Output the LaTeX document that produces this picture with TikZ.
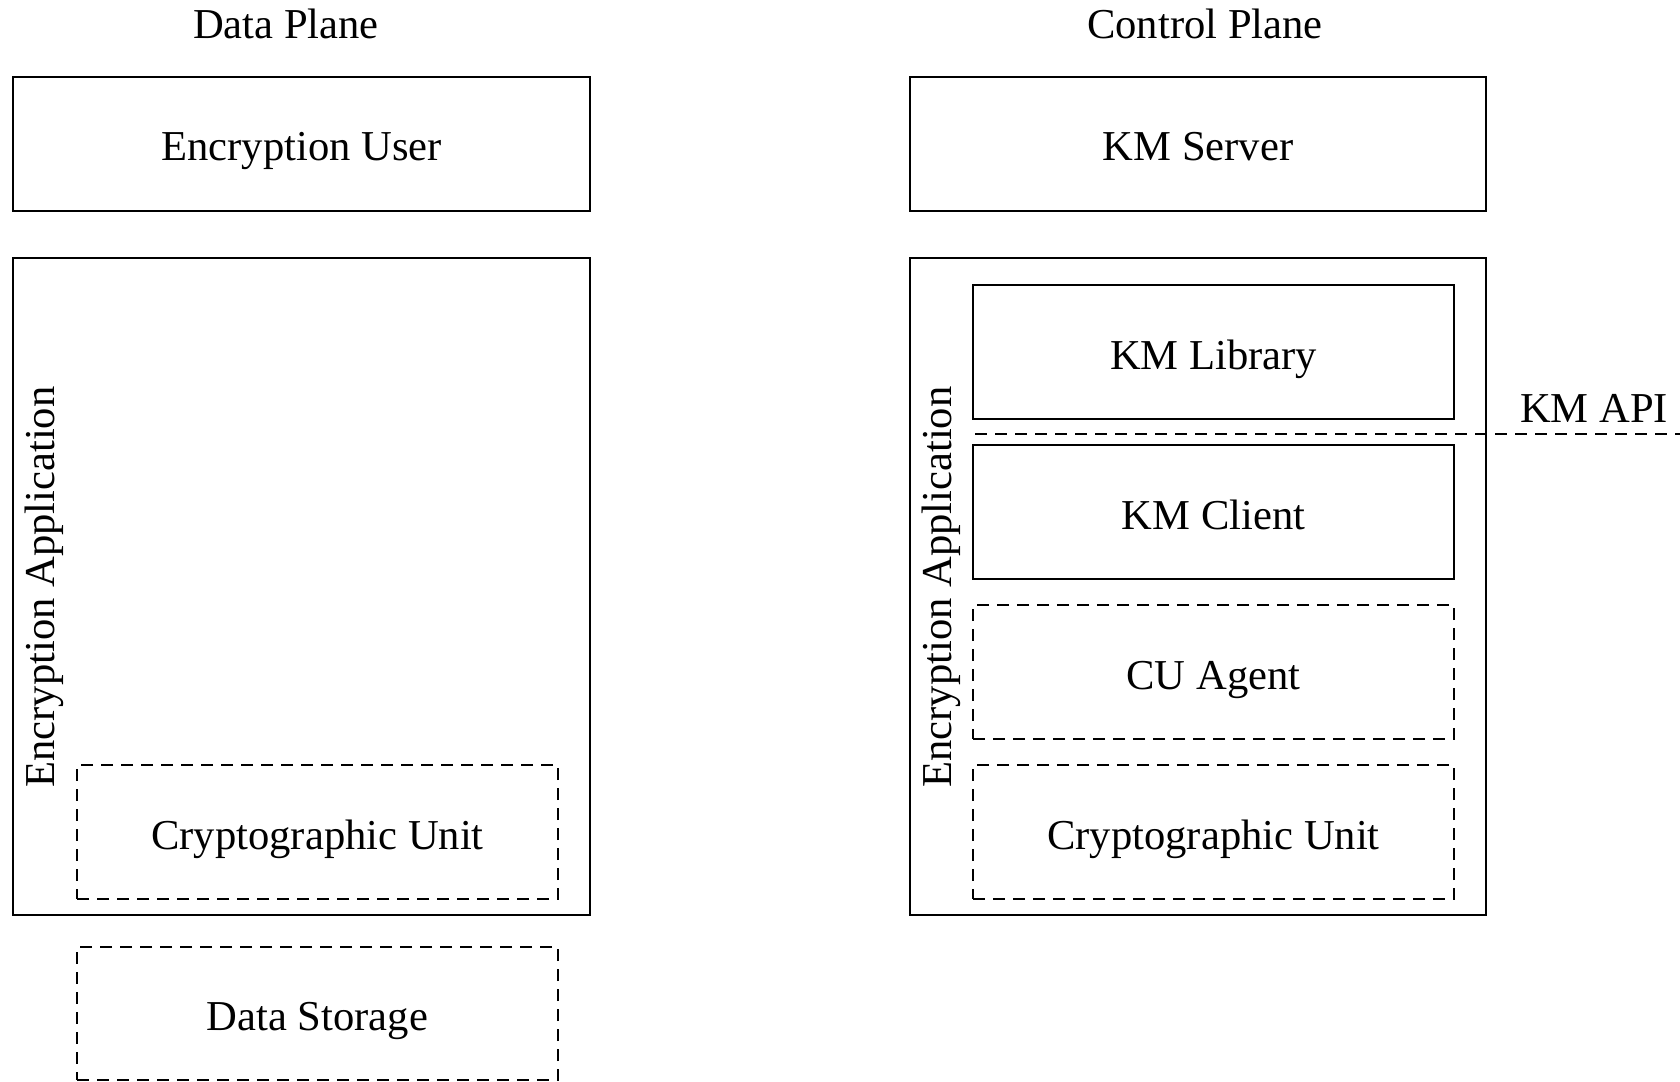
\documentclass[tikz,border=0pt]{standalone}
\usepackage{fontspec}
\setmainfont{Liberation Serif}
\begin{document}
\begin{tikzpicture}[x=0.5pt,y=-0.5pt,
  every node/.style={font=\fontsize{21.3}{25}\selectfont, inner sep=0pt},
  box/.style={draw, line width=1.2pt, rectangle, minimum width=#1, text height=17pt, text depth=0pt},
  box/.default=240.5pt,
  dbox/.style={box=#1, dash pattern=on 6pt off 4pt},
  dbox/.default=240.5pt,
  apiline/.style={line width=1.2pt, dash pattern=on 6pt off 4pt}]
\useasboundingbox (0,0) rectangle (1680,1081);
% titles
\node (dp) at (286,24) {Data Plane};
\node (cp) at (1205,24) {Control Plane};
% data plane
\node[box=288.5pt, minimum height=67pt] (eu) at (301.5,144) {Encryption User};
\node[box=288.5pt, minimum height=328.5pt] (app1) at (301.5,586.5) {};
\node[rotate=90] (app1l) at (44,587) {Encryption Application};
\node[dbox, minimum height=67pt] (cu1) at (317.5,832) {Cryptographic Unit};
\node[dbox, minimum height=66.5pt] (ds) at (317.5,1013.5) {Data Storage};
% control plane
\node[box=288pt, minimum height=67pt] (kms) at (1198,144) {KM Server};
\node[box=288pt, minimum height=328.5pt] (app2) at (1198,586.5) {};
\node[rotate=90] (app2l) at (941,587) {Encryption Application};
\node[box, minimum height=67pt] (kml) at (1213.5,352) {KM Library};
\node[box, minimum height=67pt] (kmc) at (1213.5,512) {KM Client};
\node[dbox, minimum height=67pt] (cua) at (1213.5,672) {CU Agent};
\node[dbox, minimum height=67pt] (cu2) at (1213.5,832) {Cryptographic Unit};
% KM API
\coordinate (apis) at (975,434);
\coordinate (apie) at (1680,434);
\draw[apiline] (apis) -- (apie);
\node (api) at (1594,408) {KM API};
\end{tikzpicture}
\end{document}
